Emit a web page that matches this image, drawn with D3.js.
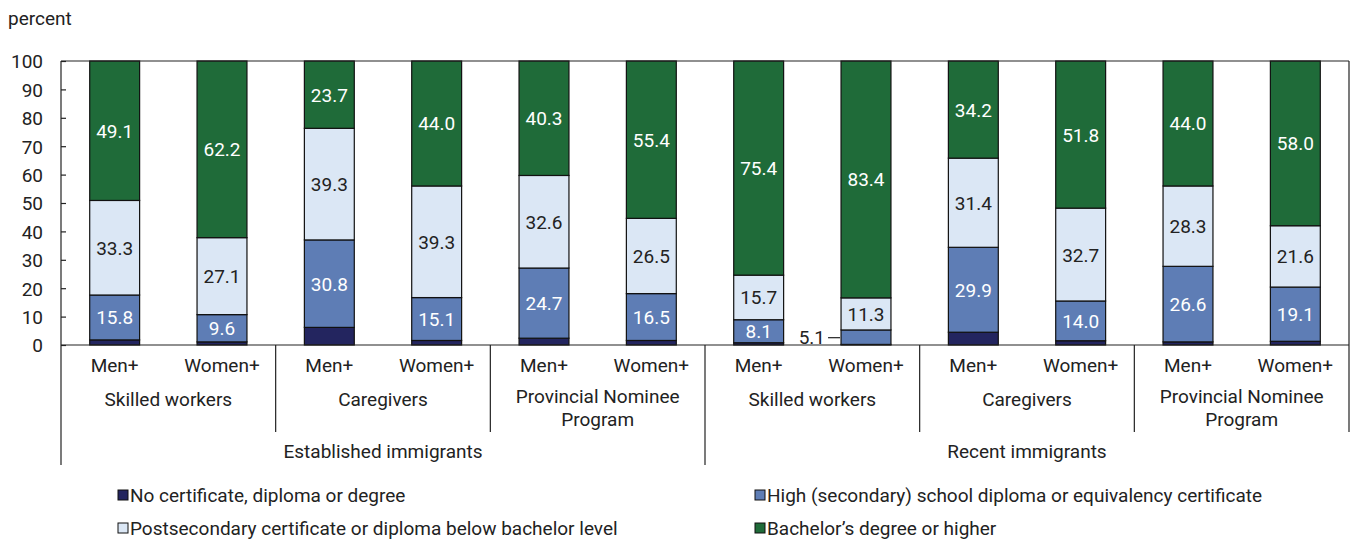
<!DOCTYPE html>
<html><head><meta charset="utf-8">
<script src="https://cdn.jsdelivr.net/npm/d3@7"></script>
<style>
body{margin:0;background:#fff;}
text{font-family:Roboto,"Liberation Sans",sans-serif;fill:#222;}
</style></head>
<body><svg id="c" width="1351" height="542"></svg>
<script>
const periods = ["Established immigrants","Recent immigrants"];
const programs = ["Skilled workers","Caregivers","Provincial Nominee Program"];
const sexes = ["Men+","Women+"];
const seriesNames = ["No certificate, diploma or degree","High (secondary) school diploma or equivalency certificate","Postsecondary certificate or diploma below bachelor level","Bachelor’s degree or higher"];
const noCert   = [1.8,1.1,6.2,1.6,2.4,1.6, 0.8,0.2,4.5,1.5,1.1,1.3];
const highSch  = [15.8,9.6,30.8,15.1,24.7,16.5, 8.1,5.1,29.9,14.0,26.6,19.1];
const postSec  = [33.3,27.1,39.3,39.3,32.6,26.5, 15.7,11.3,31.4,32.7,28.3,21.6];
const bachelor = [49.1,62.2,23.7,44.0,40.3,55.4, 75.4,83.4,34.2,51.8,44.0,58.0];
const yTicks = [0,10,20,30,40,50,60,70,80,90,100];
const colors = ["#23255f","#5e7db5","#dbe7f5","#1f6b39"];
const labelColors = ["#fff","#fff","#222","#fff"];

const bars = [];
periods.forEach((p,pi)=>programs.forEach((g,gi)=>sexes.forEach((s,si)=>{
  const i = pi*6+gi*2+si;
  bars.push({id:i, period:p, program:g, sex:s, vals:[noCert[i],highSch[i],postSec[i],bachelor[i]]});
})));

const FS = "19px";
const svg = d3.select("#c");
const L=61, R=1349, T=61, B=345;
const x = d3.scaleBand().domain(bars.map(d=>d.id)).range([L,R]).paddingInner(0.535).paddingOuter(0.2675);
const y = d3.scaleLinear().domain([0,100]).range([B,T]);

const stack = d3.stack().keys([0,1,2,3]).value((d,k)=>d.vals[k]);
const layers = stack(bars);

const g = svg.append("g");
layers.forEach((layer,k)=>{
  g.selectAll(null).data(layer).enter().append("rect")
    .attr("x",d=>x(d.data.id)).attr("width",x.bandwidth())
    .attr("y",d=>y(d[1])).attr("height",d=>y(d[0])-y(d[1]))
    .attr("fill",colors[k]).attr("stroke","#111").attr("stroke-width",1.2);
});
// labels
layers.forEach((layer,k)=>{
  if(k===0) return;
  layer.forEach(d=>{
    const v = d.data.vals[k];
    const cy = (y(d[0])+y(d[1]))/2;
    const cx = x(d.data.id)+x.bandwidth()/2;
    if(v>=7){
      svg.append("text").attr("x",cx).attr("y",cy+7).attr("text-anchor","middle")
        .style("font-size",FS).style("fill",labelColors[k]).text(v.toFixed(1));
    } else {
      const bx = x(d.data.id);
      svg.append("line").attr("x1",bx-13).attr("x2",bx-1).attr("y1",cy+0.5).attr("y2",cy+0.5).attr("stroke","#222").attr("stroke-width",1.2);
      svg.append("text").attr("x",bx-16).attr("y",cy+7).attr("text-anchor","end")
        .style("font-size",FS).text(v.toFixed(1));
    }
  });
});

// frame
svg.append("line").attr("x1",L).attr("x2",R).attr("y1",T).attr("y2",T).attr("stroke","#222").attr("stroke-width",1.2);
svg.append("line").attr("x1",R).attr("x2",R).attr("y1",T).attr("y2",432).attr("stroke","#222").attr("stroke-width",1.2);
svg.append("line").attr("x1",L).attr("x2",R).attr("y1",B).attr("y2",B).attr("stroke","#222").attr("stroke-width",1.2);
svg.append("line").attr("x1",L).attr("x2",L).attr("y1",T).attr("y2",465).attr("stroke","#222").attr("stroke-width",1.2);

// y axis
const yAxis = d3.axisRight(y).tickValues(yTicks).tickSize(5).tickFormat(d=>d);
const ya = svg.append("g").attr("transform",`translate(${L},0)`).call(yAxis);
ya.select(".domain").remove();
ya.selectAll(".tick line").attr("stroke","#222").attr("stroke-width",1.2);
ya.selectAll(".tick text").attr("x",-18).attr("text-anchor","end").attr("dy","0.36em")
  .style("font-size",FS).style("font-family","Roboto, sans-serif").attr("fill","#222");

svg.append("text").attr("x",8).attr("y",25).style("font-size",FS).text("percent");

// x labels
bars.forEach(d=>{
  svg.append("text").attr("x",x(d.id)+x.bandwidth()/2).attr("y",372).attr("text-anchor","middle")
    .style("font-size",FS).text(d.sex);
});
const step = x.step();
const groupW = step*2;
periods.forEach((p,pi)=>{
  programs.forEach((gname,gi)=>{
    const start = L + (pi*3+gi)*groupW;
    const cx = start+groupW/2;
    const words = gname==="Provincial Nominee Program" ? ["Provincial Nominee","Program"] : [gname];
    words.forEach((w,wi)=>{
      svg.append("text").attr("x",cx).attr("y",(words.length>1?403:406)+wi*23).attr("text-anchor","middle").style("font-size",FS).text(w);
    });
    if(gi>0){
      svg.append("line").attr("x1",start).attr("x2",start).attr("y1",B).attr("y2",432).attr("stroke","#222").attr("stroke-width",1.2);
    }
  });
  const ps = L + pi*3*groupW;
  svg.append("text").attr("x",ps+3*groupW/2).attr("y",458).attr("text-anchor","middle").style("font-size",FS).text(p);
  if(pi>0){
    svg.append("line").attr("x1",ps).attr("x2",ps).attr("y1",B).attr("y2",465).attr("stroke","#222").attr("stroke-width",1.2);
  }
});

// legend
const legPos = [[118,495],[755,495],[118,528],[755,528]];
seriesNames.forEach((n,i)=>{
  const [lx,ly] = legPos[i];
  svg.append("rect").attr("x",lx).attr("y",ly-5).attr("width",10).attr("height",10)
    .attr("fill",colors[i]).attr("stroke","#111").attr("stroke-width",1);
  svg.append("text").attr("x",lx+12).attr("y",ly+7).style("font-size",FS).text(n);
});
</script></body></html>
